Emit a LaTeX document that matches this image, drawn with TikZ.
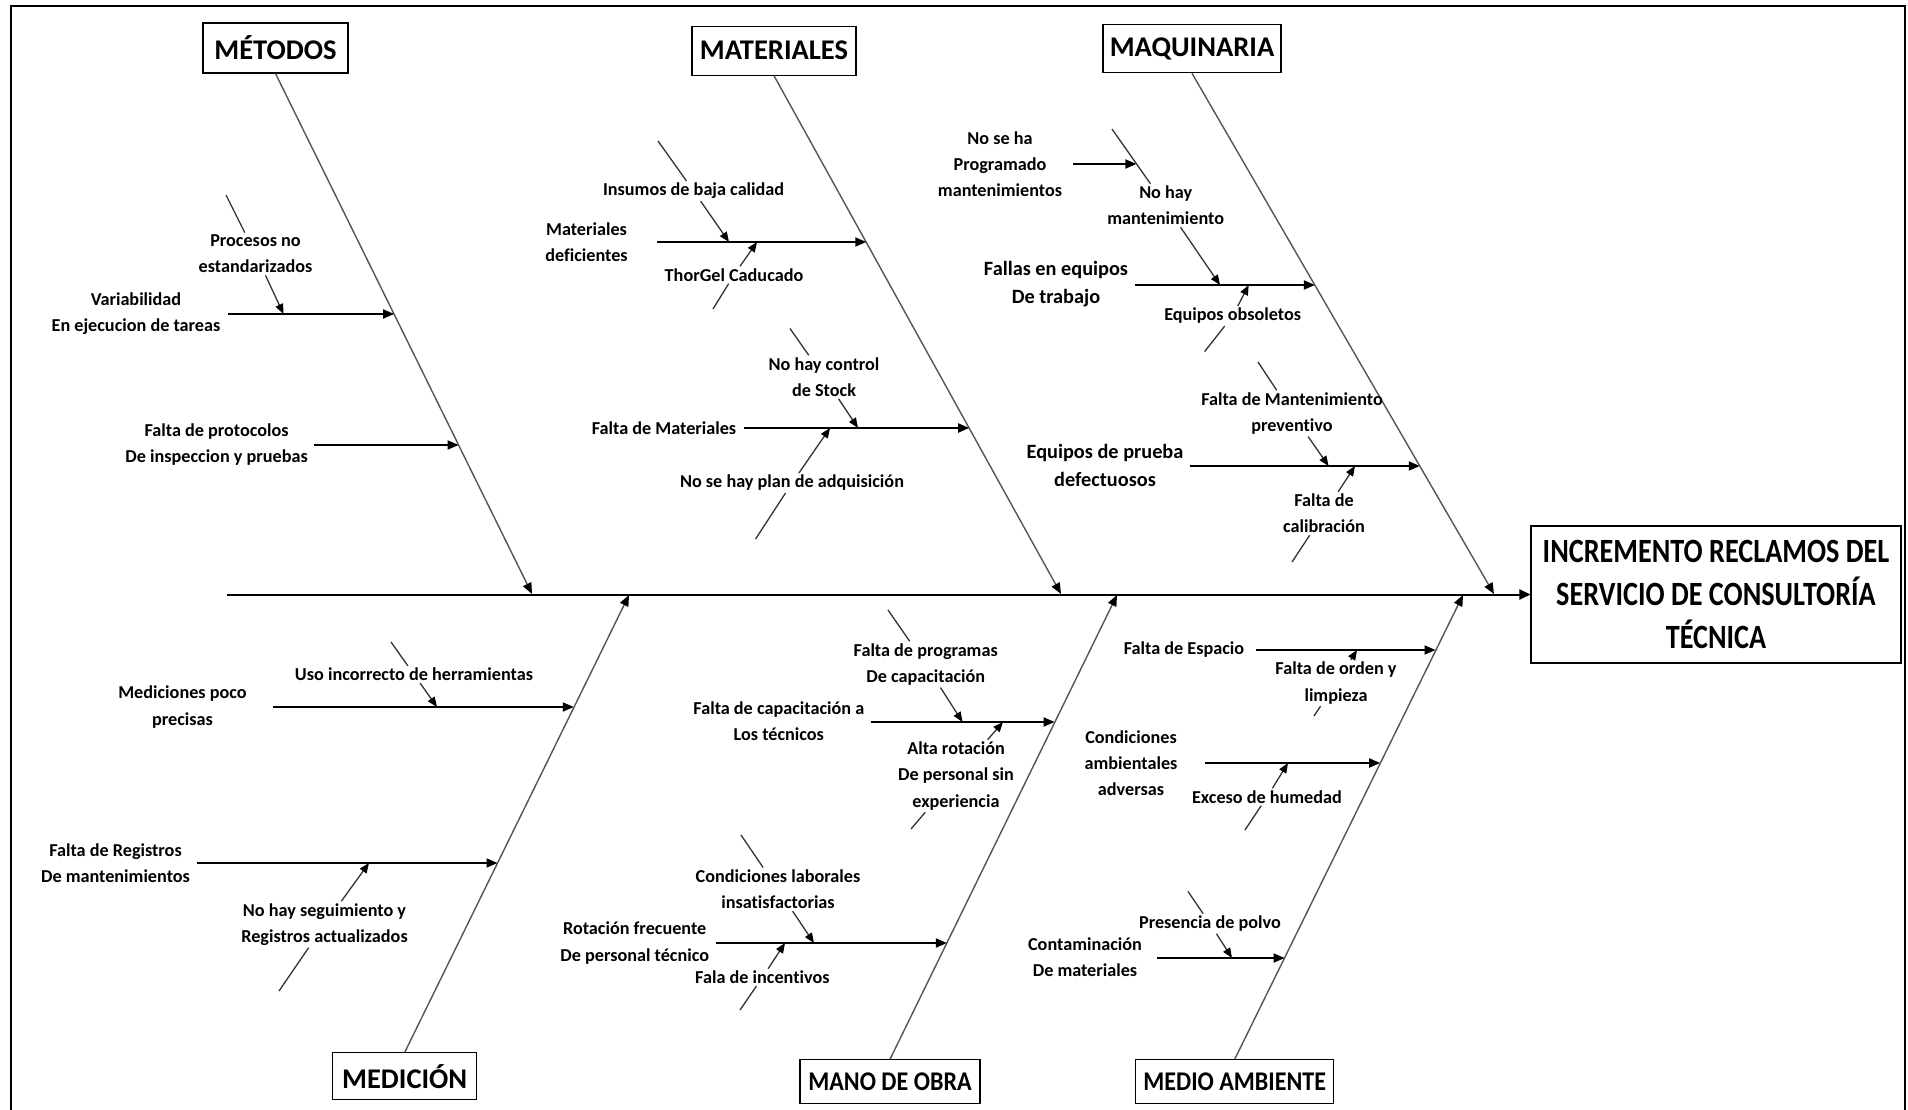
\documentclass[tikz,border=0pt]{standalone}
\usepackage{fontspec}
\setmainfont{Carlito}[Ligatures=NoCommon]
\newfontfamily\condfont{Carlito}[FakeStretch=0.89,Ligatures=NoCommon]
\newfontfamily\efffont{Carlito}[FakeStretch=0.83,Ligatures=NoCommon]
\usetikzlibrary{arrows.meta}
\definecolor{bonegray}{HTML}{555555}
\definecolor{subgray}{HTML}{333333}
\tikzset{
  lab/.style={font=\bfseries\fontsize{18.2}{26.3}\selectfont, align=center, inner sep=2pt},
  labbig/.style={font=\bfseries\fontsize{20.3}{28}\selectfont, align=center, inner sep=2pt},
  catbox/.style={draw, line width=1.1pt, font=\bfseries\fontsize{28.5}{34}\selectfont, inner sep=0pt},
  catboxc/.style={catbox, font=\condfont\bfseries\fontsize{27}{32}\selectfont},
  effbox/.style={draw, line width=1.1pt, align=center, inner sep=0pt, font=\efffont\bfseries\fontsize{34}{43}\selectfont},
  bone/.style={draw=bonegray, line width=1.4pt, -{Triangle[length=11pt,width=9pt,color=black]}},
  cause/.style={draw=black, line width=1.8pt, -{Triangle[length=11pt,width=9pt]}},
  subl/.style={draw=subgray, line width=1.3pt},
  suba/.style={subl, -{Triangle[length=10pt,width=8pt,color=black]}},
  spine/.style={draw=black, line width=2pt, -{Triangle[length=11pt,width=10pt]}},
  frame/.style={draw=black, line width=2.2pt}
}
\begin{document}
\begin{tikzpicture}[x=1pt,y=-1pt]
\useasboundingbox (0,0) rectangle (1908,1110);
\fill[white] (0,0) rectangle (1908,1110);
\draw[frame] (11,1115) -- (11,6) -- (1905,6) -- (1905,1115);

% ---------- category boxes and effect ----------
\node[catbox, minimum width=145pt, minimum height=50pt] (metodos) at (275.5,48) {MÉTODOS};
\node[catbox, minimum width=164pt, minimum height=49pt] (materiales) at (774,50.7) {MATERIALES};
\node[catbox, minimum width=178pt, minimum height=48pt] (maquinaria) at (1192,48.8) {MAQUINARIA};
\node[catbox, minimum width=144pt, minimum height=47pt] (medicion) at (404.7,1076.4) {MEDICIÓN};
\node[catboxc, minimum width=180pt, minimum height=44pt] (manoobra) at (890,1081.8) {MANO DE OBRA};
\node[catboxc, minimum width=198pt, minimum height=44pt] (medioamb) at (1234.7,1081.8) {MEDIO AMBIENTE};
\node[effbox, minimum width=370pt, minimum height=137pt] (efecto) at (1716,594.5) {INCREMENTO RECLAMOS DEL\\SERVICIO DE CONSULTORÍA\\TÉCNICA};

% ---------- spine ----------
\coordinate (sp0) at (227,594.5);
\draw[spine] (sp0) -- (efecto.west);

% ---------- bones ----------
\coordinate (bM) at (532,594);
\coordinate (bMat) at (1061,594);
\coordinate (bMaq) at (1494,594);
\coordinate (bMed) at (629,595);
\coordinate (bMO) at (1117,595);
\coordinate (bMA) at (1463,595);
\draw[bone] (metodos.south) -- (bM);
\draw[bone] (materiales.south) -- (bMat);
\draw[bone] (maquinaria.south) -- (bMaq);
\draw[bone] (medicion.north) -- (bMed);
\draw[bone] (manoobra.north) -- (bMO);
\draw[bone] (medioamb.north) -- (bMA);

% ---------- labels ----------
\node[lab] (l1) at (136,314) {Variabilidad\\En ejecucion de tareas};
\node[lab] (l2) at (255.5,254) {Procesos no\\estandarizados};
\node[lab] (l3) at (216.6,444.5) {Falta de protocolos\\De inspeccion y pruebas};
\node[lab] (l4) at (586.5,242) {Materiales\\deficientes};
\node[lab] (l5) at (693.6,191) {Insumos de baja calidad};
\node[lab] (l6) at (734,275) {ThorGel Caducado};
\node[lab] (l7) at (664,428) {Falta de Materiales};
\node[lab] (l8) at (824,377) {No hay control\\de Stock};
\node[lab] (l9) at (792,483) {No se hay plan de adquisición};
\node[lab] (l10) at (1000,164) {No se ha\\Programado\\mantenimientos};
\node[lab] (l11) at (1165.7,205.5) {No hay\\mantenimiento};
\node[labbig] (l12) at (1056,284) {Fallas en equipos\\De trabajo};
\node[lab] (l13) at (1232.6,316) {Equipos obsoletos};
\node[labbig] (l14) at (1105,465.5) {Equipos de prueba\\defectuosos};
\node[lab] (l15) at (1292,413.5) {Falta de Mantenimiento\\preventivo};
\node[lab] (l16) at (1324,513.5) {Falta de\\calibración};
\node[lab] (l17) at (182.5,707) {Mediciones poco\\precisas};
\node[lab] (l18) at (414,674.5) {Uso incorrecto de herramientas};
\node[lab] (l19) at (115.5,863) {Falta de Registros\\De mantenimientos};
\node[lab] (l20) at (324.5,924.5) {No hay seguimiento y\\Registros actualizados};
\node[lab] (l21) at (778.8,721.3) {Falta de capacitación a\\Los técnicos};
\node[lab] (l22) at (925.7,664.4) {Falta de programas\\De capacitación};
\node[lab] (l23) at (956,776) {Alta rotación\\De personal sin\\experiencia};
\node[lab] (l24) at (634.7,943) {Rotación frecuente\\De personal técnico};
\node[lab] (l25) at (778,889.4) {Condiciones laborales\\insatisfactorias};
\node[lab] (l26) at (762.4,977.4) {Fala de incentivos};
\node[lab] (l27) at (1184,650) {Falta de Espacio};
\node[lab] (l28) at (1336,683) {Falta de orden y\\limpieza};
\node[lab] (l29) at (1131,763) {Condiciones\\ambientales\\adversas};
\node[lab] (l30) at (1267,797) {Exceso de humedad};
\node[lab] (l31) at (1085,957.4) {Contaminación\\De materiales};
\node[lab] (l32) at (1210,923.7) {Presencia de polvo};

% ---------- horizontal cause arrows ----------
\coordinate (t1) at (228,314);    \coordinate (h1) at (394.1,314);
\coordinate (t3) at (314,445);    \coordinate (h3) at (458.6,445);
\coordinate (t4) at (657,242);    \coordinate (h4) at (866.3,242);
\coordinate (t7) at (743.5,428);  \coordinate (h7) at (969.2,428);
\coordinate (t10) at (1073,164);  \coordinate (h10) at (1136.4,164);
\coordinate (t12) at (1135,285);  \coordinate (h12) at (1314.9,285);
\coordinate (t14) at (1190,466);  \coordinate (h14) at (1419.8,466);
\coordinate (t17) at (272.6,707); \coordinate (h17) at (573.8,707);
\coordinate (t19) at (197,863);   \coordinate (h19) at (497.5,863);
\coordinate (t21) at (870.6,722); \coordinate (h21) at (1054.6,722);
\coordinate (t24) at (715.5,943); \coordinate (h24) at (946.9,943);
\coordinate (t27) at (1256,650);  \coordinate (h27) at (1435.5,650);
\coordinate (t29) at (1204.5,763);\coordinate (h29) at (1380.2,763);
\coordinate (t31) at (1157.4,958);\coordinate (h31) at (1284.6,958);
\foreach \i in {1,3,4,7,10,12,14,17,19,21,24,27,29,31}{
  \draw[cause] (t\i) -- (h\i);
}

% ---------- sub-cause lines (interrupted by their labels) ----------
\coordinate (s2) at (226,195);      \coordinate (e2) at (283.5,314);
\coordinate (s5) at (658,141);      \coordinate (e5) at (729,242);
\coordinate (s6) at (713,309);      \coordinate (e6) at (757,242);
\coordinate (s8) at (790,328.5);    \coordinate (e8) at (858,428);
\coordinate (s9) at (755.6,539);    \coordinate (e9) at (830,428);
\coordinate (s11) at (1112,129);    \coordinate (e11) at (1220,285);
\coordinate (s13) at (1204.6,351.6);\coordinate (e13) at (1248.7,285);
\coordinate (s15) at (1258,362);    \coordinate (e15) at (1328.6,466);
\coordinate (s16) at (1292,562);    \coordinate (e16) at (1355,466);
\coordinate (s18) at (391,642);     \coordinate (e18) at (437,707);
\coordinate (s20) at (279,991);     \coordinate (e20) at (369,863);
\coordinate (s22) at (888,610);     \coordinate (e22) at (962.5,722);
\coordinate (s23) at (911,829);     \coordinate (e23) at (1003,722);
\coordinate (s25) at (741,835);     \coordinate (e25) at (814,943);
\coordinate (s26) at (740,1010);    \coordinate (e26) at (785,943);
\coordinate (s28) at (1314,716);    \coordinate (e28) at (1357,650);
\coordinate (s30) at (1245,830);    \coordinate (e30) at (1288,763);
\coordinate (s32) at (1188,891.5);  \coordinate (e32) at (1232,958);
\foreach \i in {2,5,6,8,9,11,13,15,16,18,20,22,23,25,26,28,30,32}{
  \draw[subl] (s\i) -- (l\i);
  \draw[suba] (l\i) -- (e\i);
}
\end{tikzpicture}
\end{document}
